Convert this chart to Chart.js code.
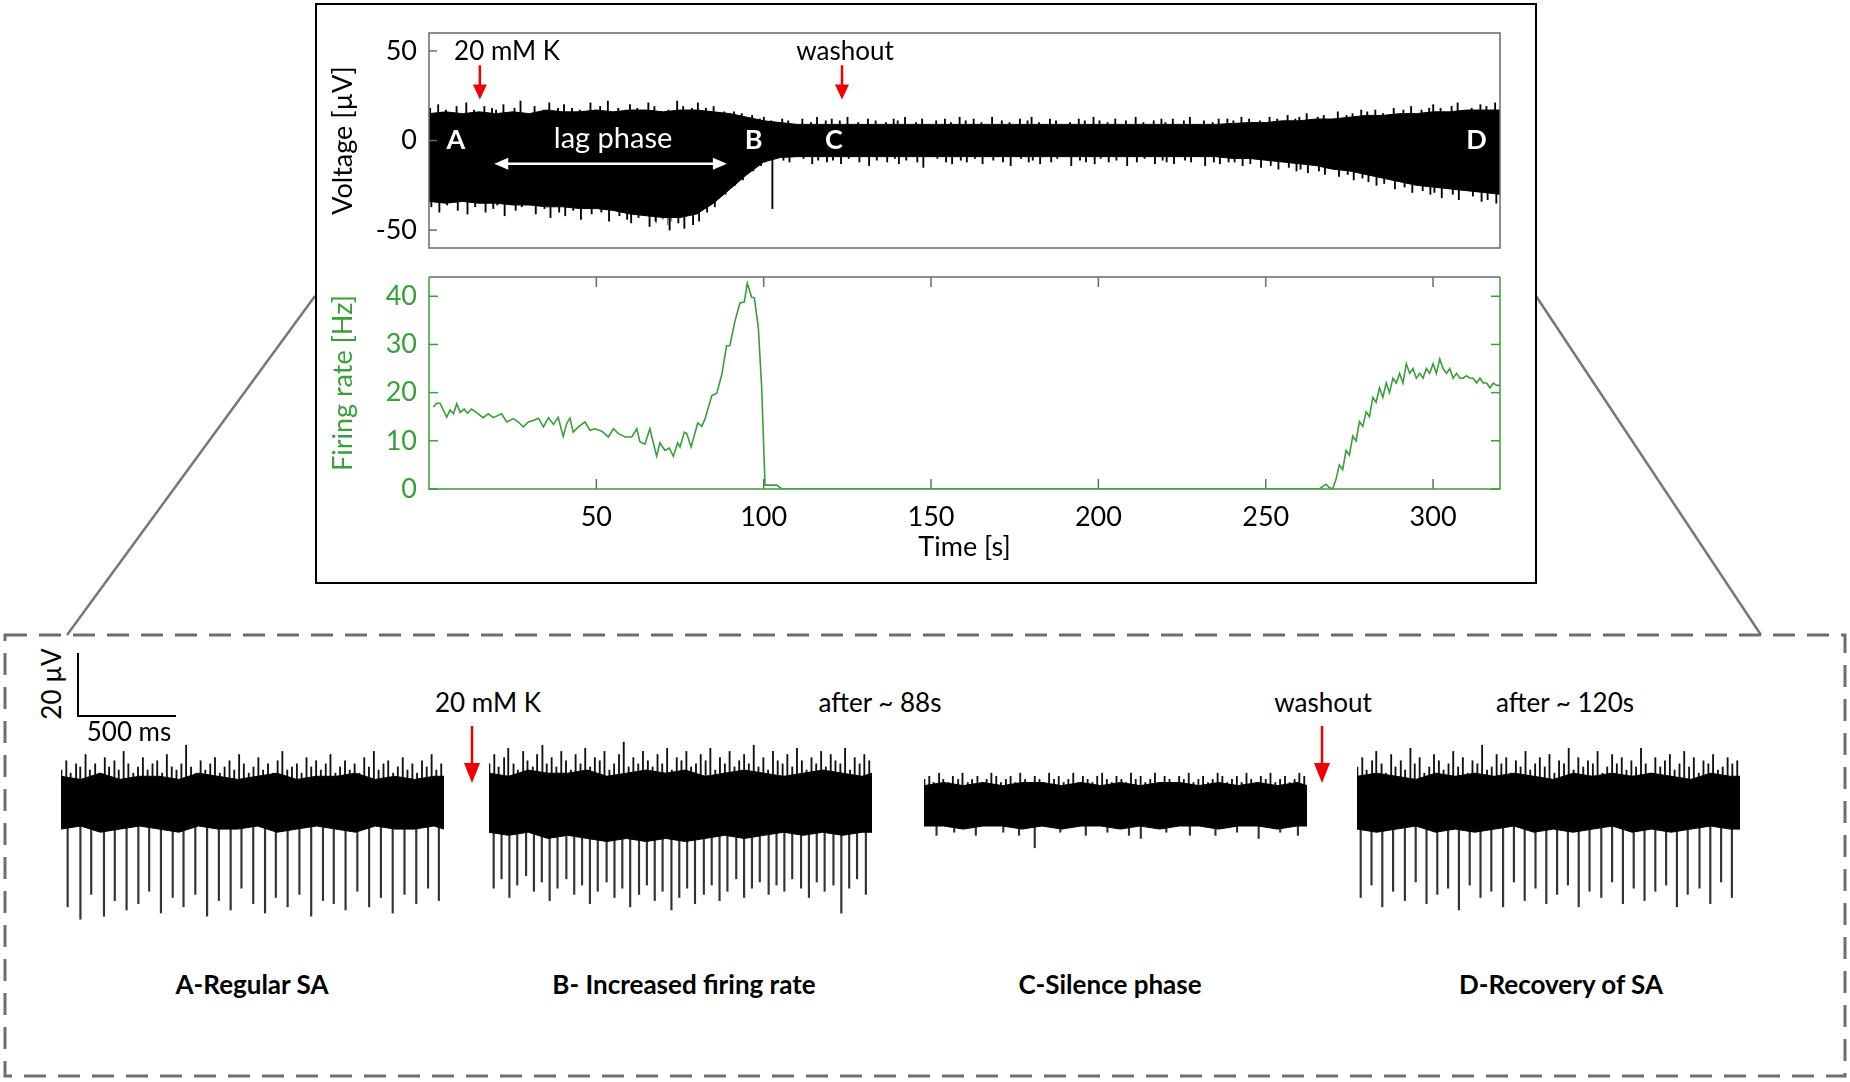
<!DOCTYPE html>
<html>
<head>
<meta charset="utf-8">
<script src="https://cdn.jsdelivr.net/npm/chart.js@4.4.1/dist/chart.umd.min.js"></script>
<style>
body{margin:0;background:#fff;font-family:Lato,sans-serif;}
#page{position:relative;width:1850px;height:1082px;overflow:hidden;background:#fff;}
canvas{position:absolute;}
#topbox{position:absolute;left:315px;top:3px;width:1222px;height:581px;border:2px solid #000;box-sizing:border-box;}
.lbl{position:absolute;white-space:nowrap;transform:translate(-50%,-50%);font-size:26px;color:#000;}
.bold{font-weight:bold;}
</style>
</head>
<body>
<div id="page">
  <svg width="1850" height="1082" style="position:absolute;left:0;top:0">
    <line x1="315" y1="296" x2="67" y2="635" stroke="#777" stroke-width="2.5"/>
    <line x1="1536" y1="296" x2="1761" y2="635" stroke="#777" stroke-width="2.5"/>
    <rect x="5" y="635" width="1840" height="441" fill="none" stroke="#6e6e6e" stroke-width="3" stroke-dasharray="22 12"/>
    <line x1="78" y1="653" x2="78" y2="716" stroke="#000" stroke-width="2"/>
    <line x1="77" y1="716" x2="176" y2="716" stroke="#000" stroke-width="2"/>
    <line x1="472" y1="726" x2="472" y2="766" stroke="#e00" stroke-width="2.5"/>
    <polygon points="464,763 480,763 472,783" fill="#e00"/>
    <line x1="1322" y1="726" x2="1322" y2="766" stroke="#e00" stroke-width="2.5"/>
    <polygon points="1314,763 1330,763 1322,783" fill="#e00"/>
  </svg>
  <div id="topbox"></div>
  <canvas id="volt" width="1200" height="240" style="left:325px;top:20px"></canvas>
  <canvas id="rate" width="1200" height="320" style="left:325px;top:262px"></canvas>
  <canvas id="snipA" width="383" height="202" style="left:61px;top:739px"></canvas>
  <canvas id="snipB" width="383" height="202" style="left:489px;top:739px"></canvas>
  <canvas id="snipC" width="383" height="202" style="left:924px;top:739px"></canvas>
  <canvas id="snipD" width="383" height="202" style="left:1357px;top:739px"></canvas>

  <div class="lbl" style="left:51px;top:684px;transform:translate(-50%,-50%) rotate(-90deg)">20 µV</div>
  <div class="lbl" style="left:129px;top:731px">500 ms</div>
  <div class="lbl" style="left:488px;top:702px">20 mM K</div>
  <div class="lbl" style="left:880px;top:702px">after ~ 88s</div>
  <div class="lbl" style="left:1323px;top:702px">washout</div>
  <div class="lbl" style="left:1565px;top:702px">after ~ 120s</div>
  <div class="lbl bold" style="left:252px;top:984px">A-Regular SA</div>
  <div class="lbl bold" style="left:684px;top:984px">B- Increased firing rate</div>
  <div class="lbl bold" style="left:1110px;top:984px">C-Silence phase</div>
  <div class="lbl bold" style="left:1561px;top:984px">D-Recovery of SA</div>
</div>
<script>
// ---- top trace: voltage envelope [µV] every 5 s ----
var envTime = [0,5,10,15,20,25,30,35,40,45,50,55,60,65,70,75,80,85,90,95,100,105,110,115,120,125,130,135,140,145,150,155,160,165,170,175,180,185,190,195,200,205,210,215,220,225,230,235,240,245,250,255,260,265,270,275,280,285,290,295,300,305,310,315,320];
var envUpper = [15,16,15,16,15,16,15,17,16,16,17,16,17,17,16,17,17,16,15,13,11,10,9,9,9,9,9,9,9,9,9,9,9,9,9,9,9,9,9,9,9,9,9,9,9,9,9,9,9.5,10,10,11,11,12,12,13,14,14,15,15,16,16,17,17,17];
var envLower = [-34,-35,-34,-35,-35,-36,-36,-37,-37,-38,-38,-39,-41,-42,-43,-43,-41,-35,-27,-19,-12,-9.5,-9,-9,-9,-9,-9,-9,-9,-9,-9,-9,-9,-9,-9,-9,-9,-9,-9,-9,-9,-9,-9,-9,-9,-9,-9,-9,-10,-10,-11,-12,-13,-14,-16,-17,-19,-21,-23,-25,-26,-27,-28,-29,-30];
// noise peaks sticking out of the band
var peakT = [0.7,3.1,5.4,8.6,11.5,13.8,16.9,19.2,20.4,22.6,25.9,27.7,31.9,34.5,36.3,38.9,
             40.7,43.1,45.4,48.6,51.5,53.8,56.9,59.2,60.4,62.6,65.9,67.7,71.9,74.5,76.3,78.9,
             80.7,83.1,85.4,88.6,91.5,93.8,96.9,99.2,100.4,102.6,105.9,107.7,111.9,114.5,116.3,118.9,
             120.7,123.1,125.4,128.6,131.5,133.8,136.9,139.2,140.4,142.6,145.9,147.7,151.9,154.5,156.3,158.9,
             160.7,163.1,165.4,168.6,171.5,173.8,176.9,179.2,180.4,182.6,185.9,187.7,191.9,194.5,196.3,198.9,
             200.7,203.1,205.4,208.6,211.5,213.8,216.9,219.2,220.4,222.6,225.9,227.7,231.9,234.5,236.3,238.9,
             240.7,243.1,245.4,248.6,251.5,253.8,256.9,259.2,260.4,262.6,265.9,267.7,271.9,274.5,276.3,278.9,
             280.7,283.1,285.4,288.6,291.5,293.8,296.9,299.2,300.4,302.6,305.9,307.7,311.9,314.5,316.3,318.9];
var peakUpV = [18,20,17,19,21,17,19,18,17,20,18,22,19,17,21,18,
               20,18,17,21,19,22,18,17,20,18,21,19,17,22,19,18,
               21,18,19,16,16,15,14,12,13,11,12,11,12,10,13,11,
               12,11,13,10,12,11,10,12,11,13,10,12,11,12,10,13,
               11,12,10,13,11,10,12,11,13,10,12,11,10,12,11,13,
               11,10,12,11,13,10,11,12,10,12,11,13,11,10,12,12,
               11,13,12,11,13,12,14,12,13,15,13,14,16,14,15,17,
               16,17,15,18,17,19,17,18,20,18,19,21,18,20,19,21];
var peakDnV = [-37,-40,-36,-39,-41,-37,-40,-38,-36,-42,-39,-37,-41,-38,-43,-40,
               -42,-39,-44,-41,-40,-45,-42,-44,-46,-43,-48,-45,-50,-46,-49,-47,
               -45,-40,-37,-30,-25,-22,-17,-14,-12,-38,-11,-12,-10,-13,-11,-12,
               -11,-13,-10,-12,-14,-11,-12,-10,-13,-11,-12,-15,-10,-12,-13,-11,
               -12,-10,-13,-11,-12,-14,-10,-12,-11,-13,-12,-10,-14,-11,-12,-13,
               -10,-12,-11,-14,-12,-10,-13,-11,-12,-13,-11,-12,-14,-12,-13,-12,
               -12,-14,-13,-15,-14,-16,-15,-17,-16,-18,-17,-19,-20,-19,-22,-21,
               -23,-25,-24,-27,-26,-29,-28,-30,-29,-32,-30,-33,-31,-34,-33,-35];
var streakT = [67.5,69.5,71,72];
var streakV = [-46,-44,-47,-45];

// ---- firing rate [Hz] ----
var rateTime = [1.3,2.3,3.3,5.3,6.3,7.3,8.3,9.3,10.5,11.5,12.7,14.7,16.2,17.7,19.2,21.7,23.2,25.2,26.7,28.2,29.7,31.2,32.7,34.2,35.7,37.2,38.6,40.1,41.1,42.1,43.1,44.6,46.6,48.1,49.6,51.6,53.6,55.1,56.6,58.6,60.6,62.1,63.0,64.5,66.0,68.0,69.0,70.5,71.8,73.0,74.3,75.0,76.3,77.0,78.3,80.3,81.5,82.5,84.5,86.0,87.5,88.9,89.9,91.4,92.9,94.2,95.1,96.4,97.2,98.4,99.4,100.4,103.9,105.4,150,200,250,266,268,269,270,271,272,273,274,275,276,277,278,279,280,281,282,283,284,285,286,287,288,289,290,291,292,293,294,295,296,297,298,299,300,301,302,303,304,305,306,307,308,309,310,311,312,313,314,315,316,317,318,319,320];
var rateHz = [17.0,17.8,17.8,14.9,16.4,15.6,17.7,15.9,16.6,15.7,16.6,15.6,14.8,15.6,14.8,15.6,13.9,14.6,13.9,12.9,13.9,14.2,14.7,12.9,14.8,13.4,14.9,10.9,13.5,14.7,11.8,12.9,13.9,12.2,12.5,12.0,10.8,12.5,11.5,10.8,10.8,12.5,9.8,9.3,12.5,6.8,9.6,8.0,8.5,6.8,9.6,8.7,11.8,11.5,8.7,13.7,13.0,14.6,19.4,19.9,23.8,29.7,29.8,34.8,38.6,38.8,42.7,39.8,39.7,33.5,21.1,0.8,0.8,0,0,0,0,0,1,0.3,0,2,5,4,8,7,11,10,14,13,16,15,19,18,21,19,22,20,23,22,24,22,26,24,25,23,24,23,25,24,26,24,27,25,24,25,23,24,23,23,23.5,23,23,22,23,22,22,21,22,21.5,21.5];
var timeTicks = [50,100,150,200,250,300];
var voltTicks = [-50,0,50];
var rateTicks = [0,10,20,30,40];

// ---- event labels on the top trace ----
var phaseNames = ['A','B','C','D'];
var phaseTimes = [8,97,121,313];
var eventNames = ['20 mM K','washout'];
var eventTimes = [15.2,123.4];

// ---- snippets (2 s windows, µV) ----
var snipTime = [0,100,200,300,400,500,600,700,800,900,1000,1100,1200,1300,1400,1500,1600,1700,1800,1900,1950];
var hairT = [5,30,52,80,101,128,150,177,199,226,248,275,297,322,346,371,395,420,444,469,493,518,542,567,591,616,640,665,689,714,738,763,787,812,836,861,885,910,934,959,983,1008,1032,1057,1081,1106,1130,1155,1179,1204,1228,1253,1277,1302,1326,1351,1375,1400,1424,1449,1473,1498,1522,1547,1571,1596,1620,1645,1669,1694,1718,1743,1767,1792,1816,1841,1865,1890,1914,1939];

var aUpper = [8,7,9,7,8,8,7,9,8,7,8,9,7,8,8,9,7,8,7,8,8];
var aLower = [-9,-8,-10,-9,-8,-9,-10,-8,-9,-9,-8,-10,-9,-8,-9,-10,-8,-9,-9,-8,-9];
var aHairV = [10,13,9,12,11,15,10,12,9,14,11,13,10,16,12,9,11,14,10,12,13,9,15,11,10,12,18,11,9,13,10,12,14,9,11,13,10,15,12,9,11,14,10,12,9,13,16,10,11,12,9,14,11,13,10,12,15,9,11,13,10,12,9,14,11,16,10,12,13,9,11,14,10,12,9,13,11,15,10,12];
var aSpikeT = [30,95,150,215,270,330,390,445,505,565,620,680,740,800,860,915,975,1035,1090,1150,1210,1270,1330,1385,1445,1505,1565,1625,1685,1745,1805,1865,1920];
var aSpikeV = [-34,-38,-30,-37,-32,-35,-33,-29,-36,-31,-34,-30,-37,-32,-35,-28,-33,-36,-31,-34,-30,-37,-32,-33,-35,-29,-34,-31,-36,-30,-33,-28,-32];

var bUpper = [9,8,10,9,9,10,8,9,10,9,10,8,9,10,9,8,9,10,9,8,9];
var bLower = [-10,-11,-10,-12,-11,-12,-13,-12,-13,-12,-13,-12,-11,-12,-11,-10,-11,-10,-11,-10,-10];
var bHairV = [12,15,11,14,17,12,10,16,13,11,15,18,12,14,11,16,13,10,15,12,17,11,14,13,16,10,12,15,19,11,14,12,16,13,11,15,12,17,10,14,13,16,11,12,15,13,17,10,14,12,16,11,13,15,12,18,11,14,10,16,13,12,15,11,17,13,10,14,12,16,11,15,13,12,17,10,14,12,15,13];
var bSpikeT = [20,60,100,140,185,225,265,305,345,390,430,470,510,550,595,635,675,715,760,800,840,880,925,965,1005,1045,1090,1130,1170,1210,1255,1295,1335,1375,1420,1460,1500,1540,1585,1625,1665,1705,1750,1790,1830,1870,1915];
var bSpikeV = [-28,-25,-31,-27,-24,-29,-26,-32,-28,-25,-30,-27,-33,-29,-26,-31,-28,-34,-30,-27,-32,-29,-35,-31,-28,-33,-30,-27,-32,-29,-25,-31,-28,-26,-30,-27,-29,-25,-28,-31,-26,-29,-27,-36,-28,-25,-30];

var cUpper = [5,6,5,6,5,6,6,5,6,5,6,5,6,6,5,6,5,6,5,6,5];
var cLower = [-8,-8,-9,-8,-8,-9,-8,-9,-8,-8,-9,-8,-9,-8,-8,-9,-8,-8,-9,-8,-8];
var cHairV = [7,8,6,9,7,6,8,7,9,6,7,8,6,7,9,8,6,7,8,6,9,7,6,8,7,6,9,7,8,6,7,9,6,8,7,6,8,9,7,6,8,7,6,9,7,8,6,7,9,6,8,7,6,8,7,9,6,7,8,6,7,9,8,6,7,8,6,9,7,6,8,7,9,6,7,8,6,7,9,8];
var cSpikeT = [60,150,260,400,480,560,690,820,930,1040,1100,1230,1350,1480,1590,1700,1810,1900];
var cSpikeV = [-11,-10,-11,-10,-11,-15,-10,-11,-10,-11,-12,-10,-11,-11,-10,-12,-10,-11];

var dUpper = [8,9,8,7,9,8,9,8,9,8,7,9,8,9,8,9,8,7,9,8,8];
var dLower = [-9,-10,-9,-8,-10,-9,-10,-9,-8,-10,-9,-10,-9,-8,-10,-9,-10,-9,-8,-9,-9];
var dHairV = [11,14,10,13,16,12,9,15,11,13,10,17,12,14,9,11,15,13,10,12,16,11,14,9,13,12,18,10,11,15,12,14,9,13,11,16,10,12,14,11,15,9,13,12,17,10,14,11,13,12,16,9,11,15,12,14,10,13,11,17,12,9,14,11,13,15,10,12,16,11,14,9,13,12,15,10,11,14,12,13];
var dSpikeT = [15,70,125,180,240,295,350,405,460,515,570,625,680,740,795,850,905,960,1015,1070,1125,1180,1240,1295,1350,1405,1460,1515,1570,1625,1680,1740,1795,1850,1905];
var dSpikeV = [-31,-27,-34,-29,-32,-26,-33,-30,-28,-35,-27,-31,-29,-34,-26,-32,-28,-33,-30,-27,-34,-29,-31,-26,-33,-28,-32,-29,-27,-34,-30,-28,-33,-26,-31];

var GREEN = '#3a9e3a';
var FONT = 'Lato';

function pts(xs, ys) {
    var out = [];
    for (var i = 0; i < xs.length; i++) out.push({x: xs[i], y: ys[i]});
    return out;
}
function bars(xs, ys, from) {
    var out = [];
    for (var i = 0; i < xs.length; i++) out.push({x: xs[i], y: [from || 0, ys[i]]});
    return out;
}
function noPad(s) {
    s.paddingTop = 0; s.paddingBottom = 0; s.paddingLeft = 0; s.paddingRight = 0;
}
function redArrow(ctx, x, y1, y2) {
    ctx.save();
    ctx.strokeStyle = '#e00'; ctx.fillStyle = '#e00'; ctx.lineWidth = 2.5;
    ctx.beginPath(); ctx.moveTo(x, y1); ctx.lineTo(x, y2 - 10); ctx.stroke();
    ctx.beginPath(); ctx.moveTo(x - 7, y2 - 13); ctx.lineTo(x + 7, y2 - 13); ctx.lineTo(x, y2 + 2); ctx.closePath(); ctx.fill();
    ctx.restore();
}

// decorations of the voltage panel: frame, inward ticks, labels, arrows
var voltDeco = {
    id: 'voltDeco',
    afterDraw: function(chart) {
        var ctx = chart.ctx, a = chart.chartArea, sx = chart.scales.x, sy = chart.scales.y;
        ctx.save();
        ctx.strokeStyle = '#6a6a6a'; ctx.lineWidth = 1.5;
        ctx.strokeRect(a.left, a.top, a.right - a.left, a.bottom - a.top);
        voltTicks.forEach(function(v) {
            var y = sy.getPixelForValue(v);
            ctx.beginPath(); ctx.moveTo(a.left, y); ctx.lineTo(a.left + 8, y); ctx.stroke();
        });
        ctx.fillStyle = '#fff'; ctx.textAlign = 'center'; ctx.textBaseline = 'middle';
        ctx.font = 'bold 27px ' + FONT;
        phaseNames.forEach(function(n, i) {
            ctx.fillText(n, sx.getPixelForValue(phaseTimes[i]), sy.getPixelForValue(0));
        });
        ctx.font = '29px ' + FONT;
        ctx.fillText('lag phase', sx.getPixelForValue(55), sy.getPixelForValue(1));
        // white double arrow of the lag phase
        var yA = sy.getPixelForValue(-13), x1 = sx.getPixelForValue(19.5), x2 = sx.getPixelForValue(89);
        ctx.strokeStyle = '#fff'; ctx.lineWidth = 2.5;
        ctx.beginPath(); ctx.moveTo(x1 + 8, yA); ctx.lineTo(x2 - 8, yA); ctx.stroke();
        ctx.beginPath(); ctx.moveTo(x1, yA); ctx.lineTo(x1 + 14, yA - 6); ctx.lineTo(x1 + 14, yA + 6); ctx.closePath(); ctx.fill();
        ctx.beginPath(); ctx.moveTo(x2, yA); ctx.lineTo(x2 - 14, yA - 6); ctx.lineTo(x2 - 14, yA + 6); ctx.closePath(); ctx.fill();
        // event labels
        ctx.fillStyle = '#000'; ctx.font = '26px ' + FONT;
        ctx.textAlign = 'left';
        ctx.fillText(eventNames[0], sx.getPixelForValue(7.5), sy.getPixelForValue(49.5));
        ctx.textAlign = 'center';
        ctx.fillText(eventNames[1], sx.getPixelForValue(124.3), sy.getPixelForValue(49.5));
        eventTimes.forEach(function(t) {
            redArrow(ctx, sx.getPixelForValue(t), sy.getPixelForValue(42), sy.getPixelForValue(24));
        });
        ctx.restore();
    }
};

// decorations of the firing rate panel
var rateDeco = {
    id: 'rateDeco',
    afterDraw: function(chart) {
        var ctx = chart.ctx, a = chart.chartArea, sx = chart.scales.x, sy = chart.scales.y;
        ctx.save();
        ctx.lineWidth = 1.5;
        ctx.strokeStyle = '#6a6a6a';
        ctx.beginPath(); ctx.moveTo(a.left, a.top); ctx.lineTo(a.right, a.top); ctx.stroke();
        timeTicks.forEach(function(t) {
            var x = sx.getPixelForValue(t);
            ctx.beginPath(); ctx.moveTo(x, a.top); ctx.lineTo(x, a.top + 10); ctx.stroke();
            ctx.beginPath(); ctx.moveTo(x, a.bottom); ctx.lineTo(x, a.bottom - 10); ctx.stroke();
        });
        ctx.strokeStyle = GREEN;
        ctx.beginPath();
        ctx.moveTo(a.left, a.top); ctx.lineTo(a.left, a.bottom); ctx.lineTo(a.right, a.bottom); ctx.lineTo(a.right, a.top);
        ctx.stroke();
        rateTicks.forEach(function(v) {
            var y = sy.getPixelForValue(v);
            ctx.beginPath(); ctx.moveTo(a.left, y); ctx.lineTo(a.left + 9, y); ctx.stroke();
            ctx.beginPath(); ctx.moveTo(a.right, y); ctx.lineTo(a.right - 9, y); ctx.stroke();
        });
        ctx.restore();
    }
};

var baseOpts = {
    responsive: false,
    animation: false,
    devicePixelRatio: 1,
    plugins: {legend: {display: false}, tooltip: {enabled: false}},
    elements: {point: {radius: 0}, line: {tension: 0}}
};

// voltage panel
new Chart(document.getElementById('volt'), {
    type: 'line',
    data: {
        datasets: [
            {data: pts(envTime, envUpper), fill: '+1', backgroundColor: '#000', borderColor: '#000', borderWidth: 1},
            {data: pts(envTime, envLower), fill: false, borderColor: '#000', borderWidth: 1},
            {type: 'bar', data: bars(peakT, peakUpV), backgroundColor: '#000', barThickness: 1.2},
            {type: 'bar', data: bars(peakT, peakDnV), backgroundColor: '#000', barThickness: 1.2},
            {type: 'bar', data: bars(streakT, streakV, -8), backgroundColor: '#8a8a8a', barThickness: 1.2}
        ]
    },
    options: Object.assign({}, baseOpts, {
        layout: {padding: {left: 0, top: 13, right: 25, bottom: 12}},
        scales: {
            x: {type: 'linear', min: 0, max: 320, display: false, offset: false},
            y: {
                min: -60, max: 60,
                afterBuildTicks: function(s) { s.ticks = voltTicks.map(function(v) { return {value: v}; }); },
                afterFit: function(s) { s.width = 104; noPad(s); },
                grid: {display: false, drawTicks: false},
                border: {display: false},
                ticks: {padding: 12, color: '#000', font: {family: FONT, size: 27}},
                title: {display: true, text: 'Voltage [µV]', color: '#000', font: {family: FONT, size: 27}, padding: {top: 2, bottom: 0}}
            }
        }
    }),
    plugins: [voltDeco]
});

// firing rate panel
new Chart(document.getElementById('rate'), {
    type: 'line',
    data: {
        datasets: [
            {data: pts(rateTime, rateHz), borderColor: GREEN, borderWidth: 1.6, fill: false}
        ]
    },
    options: Object.assign({}, baseOpts, {
        layout: {padding: {left: 0, top: 15, right: 25, bottom: 0}},
        scales: {
            x: {
                type: 'linear', min: 0, max: 320,
                afterBuildTicks: function(s) { s.ticks = timeTicks.map(function(v) { return {value: v}; }); },
                afterFit: function(s) { s.height = 93; noPad(s); },
                grid: {display: false, drawTicks: false},
                border: {display: false},
                ticks: {padding: 12, color: '#000', autoSkip: false, maxRotation: 0, font: {family: FONT, size: 27}},
                title: {display: true, text: 'Time [s]', color: '#000', font: {family: FONT, size: 27}, padding: {top: 0, bottom: 19}}
            },
            y: {
                min: 0, max: 44,
                afterBuildTicks: function(s) { s.ticks = rateTicks.map(function(v) { return {value: v}; }); },
                afterFit: function(s) { s.width = 104; noPad(s); },
                grid: {display: false, drawTicks: false},
                border: {display: false},
                ticks: {padding: 12, color: GREEN, font: {family: FONT, size: 27}},
                title: {display: true, text: 'Firing rate [Hz]', color: GREEN, font: {family: FONT, size: 27}, padding: {top: 2, bottom: 0}}
            }
        }
    }),
    plugins: [rateDeco]
});

// one small chart per trace snippet
function snippet(id, upper, lower, hairV, spikeT, spikeV) {
    new Chart(document.getElementById(id), {
        type: 'line',
        data: {
            datasets: [
                {data: pts(snipTime, upper), fill: '+1', backgroundColor: '#000', borderColor: '#000', borderWidth: 1},
                {data: pts(snipTime, lower), fill: false, borderColor: '#000', borderWidth: 1},
                {type: 'bar', data: bars(hairT, hairV), backgroundColor: '#111', barThickness: 1.2},
                {type: 'bar', data: bars(spikeT, spikeV), backgroundColor: '#333', barThickness: 1.5}
            ]
        },
        options: Object.assign({}, baseOpts, {
            layout: {padding: 0},
            scales: {
                x: {type: 'linear', min: 0, max: 1950, display: false, offset: false},
                y: {min: -45, max: 20, display: false}
            }
        })
    });
}
snippet('snipA', aUpper, aLower, aHairV, aSpikeT, aSpikeV);
snippet('snipB', bUpper, bLower, bHairV, bSpikeT, bSpikeV);
snippet('snipC', cUpper, cLower, cHairV, cSpikeT, cSpikeV);
snippet('snipD', dUpper, dLower, dHairV, dSpikeT, dSpikeV);
</script>
</body>
</html>
